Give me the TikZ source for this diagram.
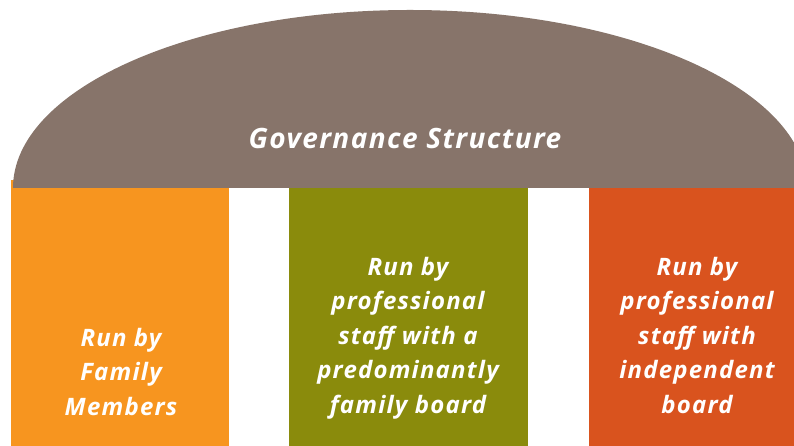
\documentclass[tikz,border=0pt]{standalone}
\usepackage{fontspec}
\setmainfont{Open Sans}[LetterSpace=5]
\definecolor{dome}{HTML}{87746A}
\definecolor{colA}{HTML}{F7951F}
\definecolor{colB}{HTML}{8A8B0C}
\definecolor{colC}{HTML}{D9531E}
\tikzset{
  colbox/.style={draw=none, inner sep=0pt, outer sep=0pt, anchor=south west, minimum height=266pt},
  coltext/.style={text=white, align=center, anchor=north, inner sep=0pt, font=\fontsize{24}{34.5}\selectfont\bfseries\itshape},
  titletext/.style={text=white, font=\fontsize{28}{34}\selectfont\bfseries\itshape}
}
\begin{document}
\begin{tikzpicture}[x=1pt,y=1pt]
\useasboundingbox (0,0) rectangle (794,446);
\clip (0,0) rectangle (794,446);
\node[colbox, fill=colA, minimum width=218pt] (c1) at (11,0) {};
\node[colbox, fill=colB, minimum width=239pt] (c2) at (289,0) {};
\node[colbox, fill=colC, minimum width=218pt] (c3) at (589,0) {};
\fill[dome] (13,258) arc[start angle=180, end angle=0, x radius=397, y radius=178] -- cycle;
\node[titletext] (title) at (405,308) {Governance Structure};
\node[coltext] (t1) at (121,118) {Run by\\Family\\Members};
\node[coltext] (t2) at (408,189) {Run by\\professional\\staff with a\\predominantly\\family board};
\node[coltext] (t3) at (697,189) {Run by\\professional\\staff with\\independent\\board};
\end{tikzpicture}
\end{document}
